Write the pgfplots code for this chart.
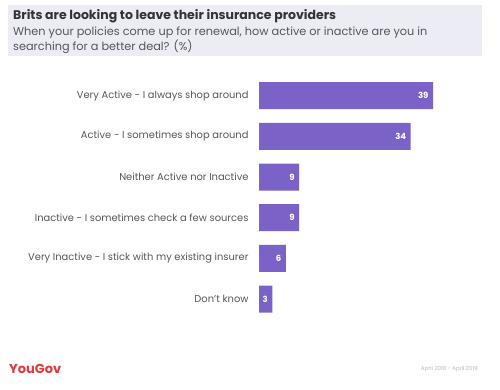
\documentclass[border=0pt]{standalone}
\usepackage{pgfplots}
\pgfplotsset{compat=1.18}
\usepackage{fontspec}
\setmainfont{Poppins}
\definecolor{barc}{RGB}{122,98,198}
\definecolor{boxbg}{RGB}{236,236,244}
\definecolor{titc}{RGB}{50,50,55}
\definecolor{labc}{RGB}{85,85,90}
\definecolor{ygred}{RGB}{222,58,62}
\begin{document}
\begin{tikzpicture}[x=1pt,y=1pt]
\path[use as bounding box, fill=white] (0,0) rectangle (500,389);
\fill[boxbg] (8,389-5) rectangle (482,389-56);
\node[anchor=base west, inner sep=0, text=titc, font=\bfseries\fontsize{12.5}{14}\selectfont] at (13,389-20) {Brits are looking to leave their insurance providers};
\node[anchor=base west, inner sep=0, text=labc, font=\fontsize{11.3}{13}\selectfont] at (13,389-36) {When your policies come up for renewal, how active or inactive are you in};
\node[anchor=base west, inner sep=0, text=labc, font=\fontsize{11.3}{13}\selectfont] at (13,389-51) {searching for a better deal? (\%)};
\begin{axis}[
  at={(259pt,69.6pt)}, anchor=south west,
  scale only axis, width=174pt, height=244pt,
  xbar, bar width=27pt,
  xmin=0, xmax=39,
  ymin=-0.5, ymax=5.5, y dir=reverse,
  axis line style={draw=none},
  xtick=\empty,
  ytick={0,1,2,3,4,5},
  yticklabels={Very Active - I always shop around, Active - I sometimes shop around, Neither Active nor Inactive, Inactive - I sometimes check a few sources, Very Inactive - I stick with my existing insurer, Don't know},
  major tick length=0pt,
  yticklabel style={text=labc, font=\fontsize{9.9}{11}\selectfont, xshift=-7pt},
  /pgf/number format/assume math mode=true,
  nodes near coords,
  nodes near coords style={anchor=east, text=white, font=\bfseries\fontsize{8.5}{10}\selectfont, xshift=-1pt},
  clip=false,
]
\addplot[fill=barc, draw=none] coordinates {(39,0) (34,1) (9,2) (9,3) (6,4) (3,5)};
\end{axis}
\node[anchor=base west, inner sep=0, text=ygred, font=\bfseries\fontsize{13}{15}\selectfont] at (9,389-373) {YouGov};
\node[anchor=base east, inner sep=0, text=gray!55, font=\fontsize{5.5}{7}\selectfont] at (478,389-370) {April 2018 - April 2019};
\end{tikzpicture}
\end{document}
